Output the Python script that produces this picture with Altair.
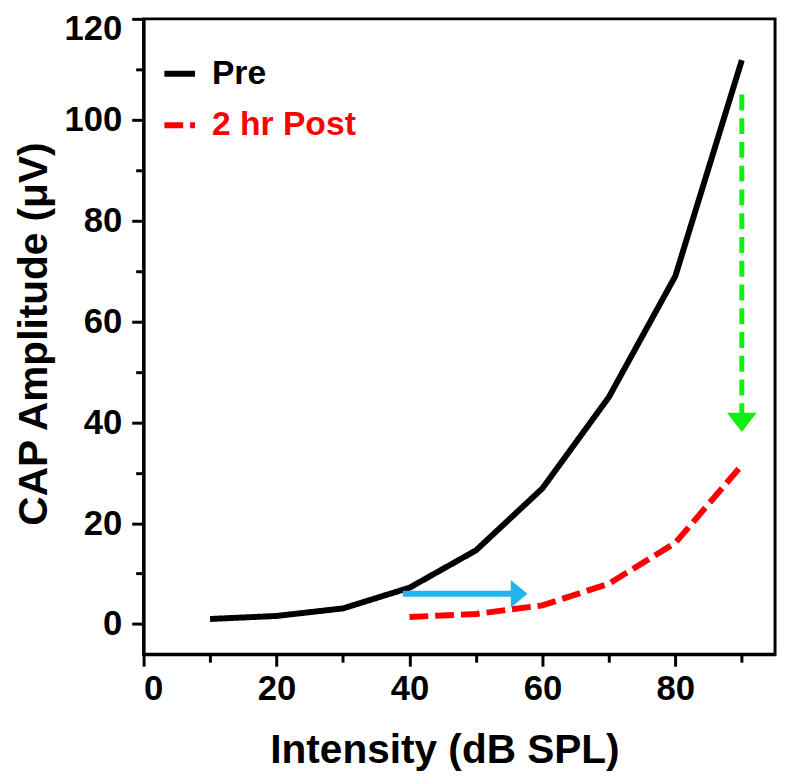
import altair as alt
import pandas as pd

# ---- data ----
series_names = ["Pre", "2 hr Post"]
series_colors = ["#000000", "#ff0000"]

intensity_pre = [10, 20, 30, 40, 50, 60, 70, 80, 90]
amp_pre = [1.0, 1.6, 3.1, 7.2, 14.6, 26.9, 45.0, 69.0, 111.8]

intensity_post = [40, 50, 60, 70, 80, 90]
amp_post = [1.4, 2.0, 3.7, 8.0, 16.1, 31.5]

# annotation arrows (data units)
blue_start_x = [39.0]
blue_end_x = [55.5]
blue_y = [6.0]
blue_head_x = [56.5]

green_x = [90.0]
green_start_y = [105.0]
green_end_y = [41.5]
green_head_y = [40.0]

x_tick_values = [0, 10, 20, 30, 40, 50, 60, 70, 80, 90]
y_tick_values = [0, 10, 20, 30, 40, 50, 60, 70, 80, 90, 100, 110, 120]

FONT = "Liberation Sans"

df = pd.DataFrame(
    {
        "intensity": intensity_pre + intensity_post,
        "amp": amp_pre + amp_post,
        "series": [series_names[0]] * len(intensity_pre)
        + [series_names[1]] * len(intensity_post),
    }
)

x_scale = alt.Scale(domain=[0, 95], nice=False, zero=False)
y_scale = alt.Scale(domain=[-6, 120], nice=False, zero=False)

x_axis = alt.Axis(
    values=x_tick_values,
    labelExpr="datum.value % 20 == 0 ? datum.label : ''",
    tickSize={"condition": {"test": "datum.value % 20 == 0", "value": 12}, "value": 8},
    grid=False,
    labelPadding=6,
    titlePadding=24,
    titleFontSize=41,
    titleX=304,
    titleAlign="center",
)
y_axis = alt.Axis(
    values=y_tick_values,
    labelExpr="datum.value % 20 == 0 ? datum.label : ''",
    tickSize={"condition": {"test": "datum.value % 20 == 0", "value": 12}, "value": 8},
    grid=False,
    labelPadding=10,
    labelFlush=True,
    labelFlushOffset=7,
    titlePadding=9,
    titleFontSize=41,
    titleY=318,
    titleAlign="center",
)

legend = alt.Legend(
    title=None,
    orient="none",
    legendX=18,
    legendY=37,
    symbolType="stroke",
    symbolSize=961,
    symbolStrokeWidth=6,
    labelFont=FONT,
    labelFontSize=34,
    labelFontWeight="bold",
    labelColor=alt.ExprRef("datum.label == 'Pre' ? '#000000' : '#ff0000'"),
    labelOffset=14,
    rowPadding=16,
    labelLimit=400,
)

lines = (
    alt.Chart(df)
    .mark_line(strokeWidth=6, strokeCap="butt")
    .encode(
        x=alt.X("intensity:Q", scale=x_scale, axis=x_axis, title="Intensity (dB SPL)"),
        y=alt.Y("amp:Q", scale=y_scale, axis=y_axis, title="CAP Amplitude (\u03bcV)"),
        color=alt.Color(
            "series:N",
            scale=alt.Scale(domain=series_names, range=series_colors),
            legend=legend,
            sort=series_names,
        ),
        strokeDash=alt.StrokeDash(
            "series:N",
            scale=alt.Scale(domain=series_names, range=[[1, 0], [19, 7]]),
            legend=legend,
            sort=series_names,
        ),
    )
)

blue_df = pd.DataFrame({"x": blue_start_x, "x2": blue_end_x, "y": blue_y, "hx": blue_head_x})
green_df = pd.DataFrame({"x": green_x, "y": green_start_y, "y2": green_end_y, "hy": green_head_y})

blue_shaft = (
    alt.Chart(blue_df)
    .mark_rule(color="#22b4ee", strokeWidth=6)
    .encode(x=alt.X("x:Q", scale=x_scale), x2="x2:Q", y=alt.Y("y:Q", scale=y_scale))
)
blue_head = (
    alt.Chart(blue_df)
    .mark_point(
        shape="M-0.6,-1L0.6,0L-0.6,1Z",
        filled=True,
        color="#22b4ee",
        opacity=1,
        size=784,
    )
    .encode(x=alt.X("hx:Q", scale=x_scale), y=alt.Y("y:Q", scale=y_scale))
)

green_shaft = (
    alt.Chart(green_df)
    .mark_rule(color="#11ee11", strokeWidth=5, strokeDash=[16, 8])
    .encode(x=alt.X("x:Q", scale=x_scale), y=alt.Y("y:Q", scale=y_scale), y2="y2:Q")
)
green_head = (
    alt.Chart(green_df)
    .mark_point(
        shape="M-1,-0.65L1,-0.65L0,0.65Z",
        filled=True,
        color="#11ee11",
        opacity=1,
        size=900,
    )
    .encode(x=alt.X("x:Q", scale=x_scale), y=alt.Y("hy:Q", scale=y_scale))
)

chart = (
    alt.layer(lines, blue_shaft, blue_head, green_shaft, green_head)
    .properties(
        width=638,
        height=642,
        autosize=alt.AutoSizeParams(type="none"),
        padding={"left": 137, "top": 7, "right": 5, "bottom": 120},
    )
    .configure_view(stroke="#000000", strokeWidth=3)
    .configure_axis(
        domainColor="#000000",
        domainWidth=3,
        tickColor="#000000",
        tickWidth=3,
        labelFont=FONT,
        labelFontSize=35,
        labelFontWeight="bold",
        labelColor="#000000",
        titleFont=FONT,
        titleFontWeight="bold",
        titleColor="#000000",
    )
)

chart.save("out.html", embed_options={"renderer": "svg", "actions": False})
